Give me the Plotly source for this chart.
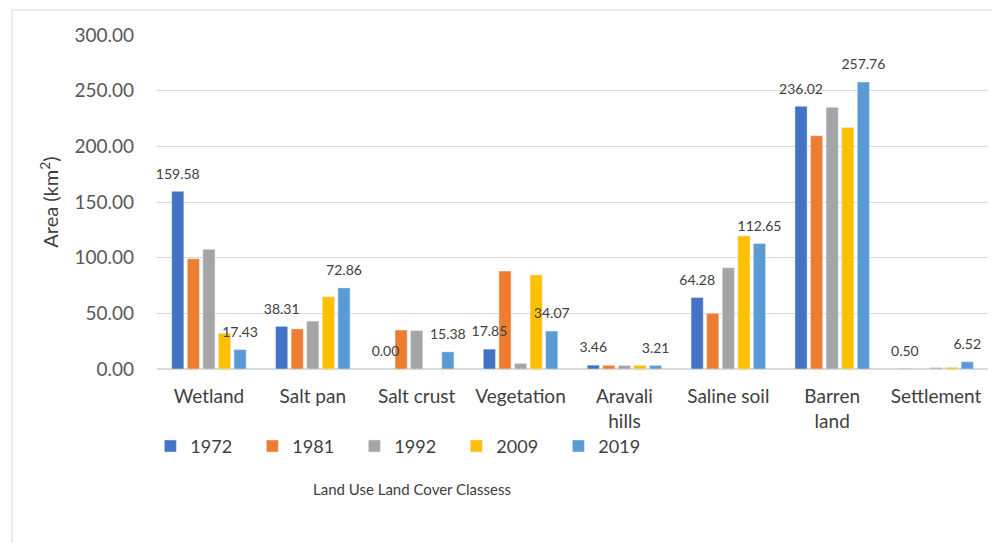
import plotly.graph_objects as go

categories = ["Wetland", "Salt pan", "Salt crust", "Vegetation", "Aravali<br>hills",
              "Saline soil", "Barren<br>land", "Settlement"]
years = ["1972", "1981", "1992", "2009", "2019"]
v1972 = [159.58, 38.31, 0.00, 17.85, 3.46, 64.28, 236.02, 0.50]
v1981 = [99.0, 36.0, 35.0, 88.0, 3.3, 50.0, 209.5, 0.3]
v1992 = [107.5, 43.0, 34.5, 5.0, 3.2, 91.0, 235.0, 1.2]
v2009 = [32.0, 65.0, 0.0, 84.5, 3.3, 119.5, 217.0, 1.5]
v2019 = [17.43, 72.86, 15.38, 34.07, 3.21, 112.65, 257.76, 6.52]
series = [v1972, v1981, v1992, v2009, v2019]
colors = ["#4472C4", "#ED7D31", "#A5A5A5", "#FFC000", "#5B9BD5"]
labelled = {"1972", "2019"}

FONT = "Lato, Open Sans, sans-serif"
LABEL_LIFT = 6  # visual gap between bar top and its data label (axis units)

fig = go.Figure()
for yr, vals, col in zip(years, series, colors):
    fig.add_trace(go.Bar(
        x=categories, y=vals, name=yr, marker_color=col, offsetgroup=yr,
    ))
# data labels drawn on top of all bars (transparent carrier bars)
for yr, vals in zip(years, series):
    if yr in labelled:
        fig.add_trace(go.Bar(
            x=categories, y=vals, base=LABEL_LIFT, offsetgroup=yr, showlegend=False,
            marker=dict(color="rgba(0,0,0,0)", line=dict(width=0)), hoverinfo="skip",
            text=[f"{v:.2f}" for v in vals], textposition="outside",
            cliponaxis=False, constraintext="none",
            textfont=dict(size=14, color="#404040", family=FONT),
        ))

fig.update_layout(
    width=992, height=535,
    barmode="group", bargap=0.25, bargroupgap=0.22,
    plot_bgcolor="white", paper_bgcolor="white",
    margin=dict(l=149, r=12, t=27, b=174, autoexpand=False),
    font=dict(family=FONT, color="#595959"),
    showlegend=True,
    legend=dict(orientation="h", x=-0.008, y=-0.176, xanchor="left", yanchor="top",
                font=dict(size=18, color="#404040"), entrywidth=57,
                itemwidth=30, traceorder="normal"),
    yaxis=dict(range=[0, 300], dtick=50, tickformat=".2f",
               showgrid=True, gridcolor="#D9D9D9", gridwidth=1,
               zeroline=True, zerolinecolor="#D9D9D9",
               tickfont=dict(size=19, color="#595959"),
               title=dict(text="Area (km<sup>2</sup>)", font=dict(size=20, color="#404040"),
                          standoff=10),
               ticks="", ticklabelstandoff=22, automargin=False),
    xaxis=dict(tickfont=dict(size=19, color="#404040"), showline=True,
               linecolor="#D9D9D9", ticks="", ticklabelstandoff=10, automargin=False),
)

fig.add_annotation(text="Land Use Land Cover Classess", xref="paper", yref="paper",
                   x=0.307, y=-0.360, xanchor="center", yanchor="middle",
                   showarrow=False, font=dict(size=15, color="#404040", family=FONT))

fig.add_shape(type="rect", xref="paper", yref="paper",
              x0=-0.1745, x1=1.03, y0=-0.55, y1=1.075,
              line=dict(color="#D9D9D9", width=1), fillcolor="rgba(0,0,0,0)")

fig.write_html("out.html")
